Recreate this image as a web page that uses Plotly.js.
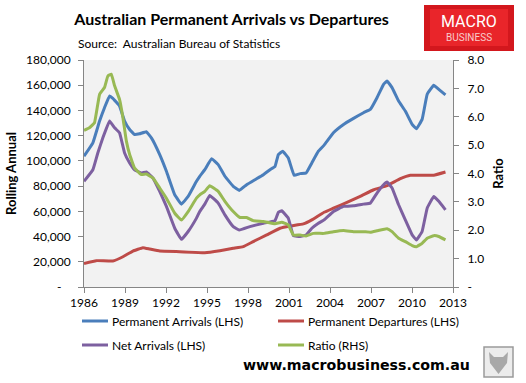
<!DOCTYPE html>
<html><head><meta charset="utf-8">
<script src="https://cdn.plot.ly/plotly-3.0.1.min.js"></script>
<style>html,body{margin:0;padding:0;background:#fff;} #chart{width:526px;height:383px;}</style>
</head><body><div id="chart"></div>
<script>
// ---- Data ----
const arrivalsYears = [1986.0, 1986.65, 1987.14, 1987.5, 1987.87, 1988.11, 1988.6, 1988.97, 1989.34, 1989.7, 1990.07, 1990.56, 1990.93, 1991.54, 1992.03, 1992.64, 1993.13, 1993.62, 1994.23, 1994.47, 1994.84, 1995.33, 1995.82, 1996.31, 1996.92, 1997.36, 1997.9, 1998.51, 1999.12, 1999.61, 1999.98, 2000.22, 2000.54, 2000.95, 2001.37, 2001.81, 2002.25, 2002.67, 2003.15, 2003.57, 2004.25, 2004.99, 2005.72, 2006.45, 2006.95, 2007.44, 2007.92, 2008.17, 2008.54, 2009.02, 2009.51, 2010.01, 2010.32, 2010.74, 2011.11, 2011.59, 2011.96, 2012.45];
const arrivals = [103700, 114300, 131600, 142200, 151500, 149600, 143500, 131600, 124900, 120900, 121500, 123100, 118300, 105000, 91800, 73100, 65700, 71800, 83800, 87800, 93000, 101800, 97000, 87800, 79800, 76600, 81100, 85100, 89000, 93000, 95700, 105000, 107700, 102300, 88600, 89900, 90400, 98400, 107700, 112500, 122300, 128900, 133700, 138200, 140800, 150100, 160700, 163400, 158100, 147500, 139500, 128900, 125400, 132900, 152800, 159900, 156700, 152300];

const departuresYears = [1986.0, 1986.9, 1988.11, 1988.85, 1989.58, 1990.31, 1990.8, 1991.54, 1993.0, 1994.84, 1995.94, 1996.92, 1997.65, 1998.38, 1999.37, 2000.34, 2001.08, 2002.05, 2002.67, 2003.57, 2004.25, 2005.24, 2006.21, 2007.19, 2008.17, 2009.15, 2009.88, 2010.62, 2011.59, 2012.45];
const departures = [18700, 20900, 20600, 24000, 28500, 31200, 30100, 28500, 28000, 27200, 28800, 30700, 32000, 36000, 41300, 46600, 48400, 50000, 53200, 59300, 62500, 67100, 71800, 77100, 80300, 85900, 88600, 88600, 88600, 91200];

const netYears = [1986.0, 1986.65, 1987.01, 1987.38, 1987.87, 1988.24, 1988.6, 1988.97, 1989.34, 1989.7, 1990.2, 1990.56, 1991.05, 1991.54, 1992.03, 1992.64, 1993.13, 1993.62, 1994.23, 1994.47, 1994.84, 1995.2, 1995.82, 1996.31, 1996.92, 1997.36, 1998.14, 1999.12, 1999.98, 2000.22, 2000.47, 2000.95, 2001.32, 2001.81, 2002.25, 2002.67, 2003.15, 2003.57, 2004.25, 2004.99, 2005.72, 2006.45, 2006.95, 2007.44, 2007.92, 2008.17, 2008.54, 2009.02, 2009.51, 2010.01, 2010.32, 2010.74, 2011.11, 2011.59, 2011.96, 2012.45];
const netArrivals = [83800, 93000, 106300, 118300, 131600, 126200, 122300, 106300, 98400, 93000, 90400, 91200, 86400, 75800, 63900, 46600, 37800, 44000, 54600, 59900, 65700, 72600, 66500, 57200, 47900, 45200, 47900, 50600, 52700, 59300, 60400, 54600, 40800, 40000, 41300, 46600, 50600, 53200, 59900, 63900, 64400, 65700, 66500, 74500, 81100, 83200, 78500, 65200, 53200, 41300, 37300, 44000, 62500, 71800, 67900, 61200];

const ratioYears = [1986.0, 1986.4, 1986.77, 1987.14, 1987.5, 1987.75, 1988.0, 1988.24, 1988.6, 1988.85, 1989.1, 1989.34, 1989.7, 1990.2, 1990.56, 1991.05, 1991.54, 1992.03, 1992.64, 1993.13, 1993.62, 1994.23, 1994.47, 1994.84, 1995.2, 1995.82, 1996.31, 1996.92, 1997.41, 1997.9, 1998.38, 1999.12, 1999.98, 2000.47, 2000.95, 2001.32, 2001.81, 2002.25, 2002.79, 2003.57, 2004.25, 2004.99, 2005.72, 2006.45, 2006.95, 2007.44, 2008.17, 2008.54, 2009.02, 2009.51, 2010.01, 2010.32, 2010.74, 2011.11, 2011.59, 2011.96, 2012.45];
const ratio = [5.52, 5.61, 5.79, 6.79, 7.03, 7.44, 7.50, 7.09, 6.61, 5.96, 5.14, 4.67, 4.19, 3.96, 3.98, 3.84, 3.49, 3.13, 2.60, 2.36, 2.66, 3.13, 3.25, 3.37, 3.57, 3.37, 3.02, 2.66, 2.45, 2.45, 2.34, 2.31, 2.23, 2.28, 2.19, 1.83, 1.83, 1.80, 1.89, 1.89, 1.95, 1.99, 1.95, 1.95, 1.93, 1.98, 2.05, 1.95, 1.72, 1.60, 1.46, 1.42, 1.54, 1.72, 1.81, 1.78, 1.66];

const seriesNames = ['Permanent Arrivals (LHS)', 'Permanent Departures (LHS)', 'Net Arrivals (LHS)', 'Ratio (RHS)'];
const seriesColors = ['#4A7EBB', '#BE4B48', '#7D60A0', '#98B954'];

const xTickVals = [1986, 1989, 1992, 1995, 1998, 2001, 2004, 2007, 2010, 2013];
const xTickText = ['1986', '1989', '1992', '1995', '1998', '2001', '2004', '2007', '2010', '2013'];
const leftTickVals = [0, 20000, 40000, 60000, 80000, 100000, 120000, 140000, 160000, 180000];
const leftTickText = ['-\u00a0\u00a0\u00a0', '20,000', '40,000', '60,000', '80,000', '100,000', '120,000', '140,000', '160,000', '180,000'];
const rightTickVals = [0, 1, 2, 3, 4, 5, 6, 7, 8];
const rightTickText = ['-', '1.0', '2.0', '3.0', '4.0', '5.0', '6.0', '7.0', '8.0'];

// ---- Layout geometry (pixels) ----
const W = 526, H = 383, PL = 84, PR = 453, PT = 60, PB = 287;
const fx = p => (p - PL) / (PR - PL);
const fy = p => (PB - p) / (PB - PT);
const FONT = 'Lato, "Open Sans", sans-serif';

const lineStyle = (i) => ({color: seriesColors[i], width: 3, shape: 'spline', smoothing: 0.25});
const traces = [
  {x: arrivalsYears, y: arrivals, name: seriesNames[0], type: 'scatter', mode: 'lines', line: lineStyle(0)},
  {x: departuresYears, y: departures, name: seriesNames[1], type: 'scatter', mode: 'lines', line: lineStyle(1)},
  {x: netYears, y: netArrivals, name: seriesNames[2], type: 'scatter', mode: 'lines', line: lineStyle(2)},
  {x: ratioYears, y: ratio, name: seriesNames[3], type: 'scatter', mode: 'lines', line: lineStyle(3), yaxis: 'y2'}
];

const shapes = [];
const annotations = [];
// legend (manual, two columns)
const legendPos = [[82, 321], [278, 321], [82, 345], [278, 345]];
legendPos.forEach((p, i) => {
  shapes.push({type: 'line', xref: 'paper', yref: 'paper', x0: fx(p[0]), x1: fx(p[0] + 26), y0: fy(p[1]), y1: fy(p[1]),
    line: {color: seriesColors[i], width: 3}});
  annotations.push({xref: 'paper', yref: 'paper', x: fx(p[0] + 28), y: fy(p[1]), xanchor: 'left', yanchor: 'middle',
    text: seriesNames[i], showarrow: false, font: {family: FONT, size: 12, color: '#000'}});
});
// subtitle
annotations.push({xref: 'paper', yref: 'paper', x: fx(76), y: fy(44), xanchor: 'left', yanchor: 'middle', showarrow: false,
  text: 'Source:  Australian Bureau of Statistics', font: {family: FONT, size: 12, color: '#000'}});
// logo
shapes.push({type: 'rect', xref: 'paper', yref: 'paper', x0: fx(424), x1: fx(514), y0: fy(51), y1: fy(5), fillcolor: '#d3171d', line: {width: 0}, layer: 'above'});
shapes.push({type: 'rect', xref: 'paper', yref: 'paper', x0: fx(430), x1: fx(508), y0: fy(46), y1: fy(9), fillcolor: '#e9252a', line: {width: 0}, layer: 'above'});
annotations.push({xref: 'paper', yref: 'paper', x: fx(469), y: fy(21), xanchor: 'center', yanchor: 'middle', showarrow: false,
  text: 'MACRO', font: {family: 'Roboto, sans-serif', size: 16, color: '#ffffff'}});
annotations.push({xref: 'paper', yref: 'paper', x: fx(469), y: fy(37), xanchor: 'center', yanchor: 'middle', showarrow: false,
  text: 'BUSINESS', font: {family: 'Roboto, sans-serif', size: 10, color: '#f8cccc'}});
// url
annotations.push({xref: 'paper', yref: 'paper', x: fx(356), y: fy(365), xanchor: 'center', yanchor: 'middle', showarrow: false,
  text: '<b>www.macrobusiness.com.au</b>', font: {family: '"DejaVu Sans", Verdana, sans-serif', size: 14.2, color: '#000'}});
// wolf badge
shapes.push({type: 'rect', xref: 'paper', yref: 'paper', x0: fx(484), x1: fx(513), y0: fy(377), y1: fy(347), fillcolor: '#ececec', line: {color: '#9a9a9a', width: 1.5}});
shapes.push({type: 'path', xref: 'paper', yref: 'paper', fillcolor: '#8c8c8c', opacity: 0.7, line: {width: 0},
  path: `M ${fx(489)} ${fy(352)} L ${fx(494)} ${fy(357)} L ${fx(503)} ${fy(357)} L ${fx(508)} ${fy(352)} L ${fx(507)} ${fy(363)} L ${fx(498.5)} ${fy(374)} L ${fx(490)} ${fy(363)} Z`});

const layout = {
  width: W, height: H,
  margin: {l: PL, r: W - PR, t: PT, b: H - PB, pad: 0},
  paper_bgcolor: '#ffffff', plot_bgcolor: '#f2f2f2',
  showlegend: false,
  font: {family: FONT, size: 12, color: '#000'},
  title: {text: '<b>Australian Permanent Arrivals vs Departures</b>', x: 231.5 / W, xanchor: 'center', xref: 'container',
    y: 1 - 19 / H, yanchor: 'middle', yref: 'container', font: {family: FONT, size: 16, color: '#000'}},
  xaxis: {range: [1986, 2013], tickvals: xTickVals, ticktext: xTickText, ticks: 'outside', ticklen: 5, tickcolor: '#868686',
    showline: true, linecolor: '#868686', linewidth: 1, showgrid: false, zeroline: false, fixedrange: true,
    tickfont: {family: FONT, size: 12, color: '#000'}},
  yaxis: {range: [0, 180000], tickvals: leftTickVals, ticktext: leftTickText, ticks: 'outside', ticklen: 5, tickcolor: '#868686',
    showline: true, linecolor: '#868686', linewidth: 1, showgrid: false, zeroline: false, ticklabelstandoff: 5,
    tickfont: {family: FONT, size: 12, color: '#000'},
    title: {text: '<b>Rolling Annual</b>', standoff: 6, font: {family: FONT, size: 13, color: '#000'}}},
  yaxis2: {range: [0, 8], overlaying: 'y', side: 'right', tickvals: rightTickVals, ticktext: rightTickText, ticks: 'outside', ticklen: 5,
    tickcolor: '#868686', showline: true, linecolor: '#868686', linewidth: 1, showgrid: false, zeroline: false, ticklabelstandoff: 6,
    tickfont: {family: FONT, size: 12, color: '#000'},
    title: {text: '<b>Ratio</b>', standoff: 10, font: {family: FONT, size: 13, color: '#000'}}},
  shapes: shapes,
  annotations: annotations
};

Plotly.newPlot('chart', traces, layout, {displayModeBar: false, staticPlot: true});
</script></body></html>
